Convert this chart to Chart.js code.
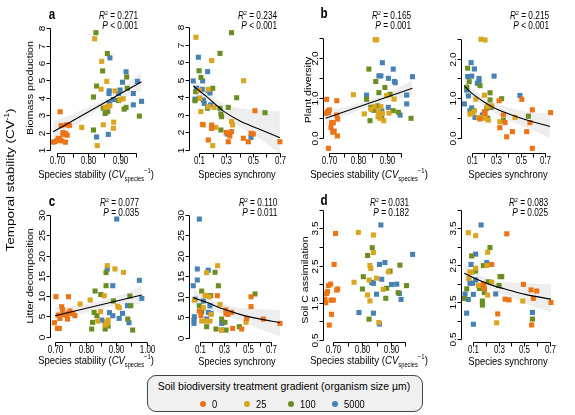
<!DOCTYPE html>
<html>
<head>
<meta charset="utf-8">
<title>Temporal stability</title>
<script src="https://cdn.jsdelivr.net/npm/chart.js@4.4.1/dist/chart.umd.min.js"></script>
<style>
  html, body { margin: 0; padding: 0; background: #fff; }
  #fig { position: relative; width: 575px; height: 415px; overflow: hidden;
         font-family: "Liberation Sans", Arial, Helvetica, sans-serif; color: #000; }
  #fig canvas { position: absolute; left: 0; top: 0; }
  .txt { position: absolute; white-space: nowrap; line-height: 1; }
  .txt sup, .txt sub { line-height: 0; }
  .txt sup { font-size: 0.62em; }
  .txt sub { font-size: 0.6em; }
  #legend { position: absolute; left: 147px; top: 375px; width: 274px; height: 35px;
            border: 1px solid #444; border-radius: 9px; background: #f0f0f0; }
  .dot { position: absolute; width: 6px; height: 6px; border-radius: 50%; }
</style>
</head>
<body>
<div id="fig">
  <canvas id="pa" width="575" height="415"></canvas>
  <canvas id="pa2" width="575" height="415"></canvas>
  <canvas id="pb" width="575" height="415"></canvas>
  <canvas id="pb2" width="575" height="415"></canvas>
  <canvas id="pc" width="575" height="415"></canvas>
  <canvas id="pc2" width="575" height="415"></canvas>
  <canvas id="pd" width="575" height="415"></canvas>
  <canvas id="pd2" width="575" height="415"></canvas>
  <div id="legend"></div>
</div>
<script>
// treatment groups (organism size, µm)
const groups = ['0', '25', '100', '5000'];
const groupColors = ['#EC7416', '#DAA520', '#6B8E23', '#4682B4'];

// tick values and labels
const stabTicks = [0.70, 0.75, 0.80, 0.85, 0.90, 0.95];
const stabLabels = ['0.70', '', '0.80', '', '0.90', ''];
const stabTicksWide = [0.70, 0.75, 0.80, 0.85, 0.90, 0.95, 1.00];
const stabLabelsWide = ['0.70', '', '0.80', '', '0.90', '', '1.00'];
const syncTicks = [0.1, 0.2, 0.3, 0.4, 0.5, 0.6, 0.7];
const syncLabels = ['0.1', '', '0.3', '', '0.5', '', '0.7'];
const biomassTicks = [1, 2, 3, 4, 5, 6, 7, 8];
const biomassLabels = ['1', '2', '3', '4', '5', '6', '7', '8'];
const plantTicks = [0, 0.5, 1, 1.5, 2, 2.5];
const plantLabels = ['0.0', '', '1.0', '', '2.0', ''];
const litterTicks = [0, 5, 10, 15, 20, 25, 30];
const litterLabels = ['0', '5', '10', '15', '20', '25', '30'];
const soilTicks = [0.5, 1, 1.5, 2, 2.5, 3, 3.5, 4];
const soilLabels = ['0.5', '', '1.5', '', '2.5', '', '3.5', ''];

// R2 and P per panel (a, a2, b, b2, c, c2, d, d2)
const r2Values = ['0.271', '0.234', '0.165', '0.215', '0.077', '0.110', '0.031', '0.083'];
const pValues = ['< 0.001', '< 0.001', '= 0.001', '< 0.001', '= 0.035', '= 0.011', '= 0.182', '= 0.025'];

// a: biomass production vs species stability, one list per group
const biomassStab = [
  [[0.711,3.2],[0.714,2.4],[0.73,2.45],[0.74,2.42],[0.72,2.0],[0.727,1.95],[0.733,1.85],[0.705,1.67],[0.695,1.48],[0.701,1.55],[0.71,1.6],[0.716,1.52],[0.688,1.45],[0.728,1.45],[0.72,1.9]],
  [[0.82,7.4],[0.842,6.1],[0.858,4.95],[0.84,4.5],[0.884,4.4],[0.868,3.55],[0.853,3.45],[0.90,3.9],[0.91,3.95],[0.779,2.3],[0.847,2.45],[0.88,2.6],[0.879,2.25],[0.828,1.25],[0.862,3.5]],
  [[0.824,7.75],[0.86,6.55],[0.845,5.55],[0.826,4.68],[0.816,4.05],[0.923,4.55],[0.921,5.2],[0.847,3.4],[0.853,3.1],[0.861,3.2],[0.895,3.85],[0.919,3.45],[0.913,3.35],[0.961,2.95],[0.816,2.15]],
  [[0.868,6.3],[0.919,5.5],[0.955,4.95],[0.908,4.9],[0.866,4.4],[0.865,4.25],[0.90,4.45],[0.895,4.25],[0.879,3.9],[0.942,4.25],[0.968,3.8],[0.942,3.6],[0.866,3.7],[0.826,1.75],[0.863,1.9]]
];
const biomassStabFit = [[0.689,2.05],[0.968,4.93]];
const biomassStabHi = [[0.689,2.65],[0.75,3.06],[0.84,3.83],[0.91,4.66],[0.968,5.48]];
const biomassStabLo = [[0.689,1.45],[0.75,2.30],[0.84,3.39],[0.91,4.00],[0.968,4.38]];

// a: biomass production vs species synchrony
const biomassSync = [
  [[0.514,3.24],[0.125,2.46],[0.192,2.42],[0.192,2.23],[0.167,1.57],[0.316,1.47],[0.34,2.05],[0.328,1.8],[0.30,2.0],[0.428,1.67],[0.465,1.47],[0.485,1.95],[0.502,1.91],[0.70,1.47],[0.323,1.9]],
  [[0.075,7.43],[0.192,6.1],[0.43,4.95],[0.10,4.4],[0.167,4.46],[0.167,3.47],[0.112,3.19],[0.21,3.43],[0.34,2.62],[0.348,2.43],[0.197,2.29],[0.224,2.29],[0.20,1.25],[0.13,2.43],[0.105,3.95]],
  [[0.34,7.69],[0.254,6.51],[0.098,5.52],[0.112,5.14],[0.20,4.52],[0.073,4.33],[0.068,3.81],[0.378,3.98],[0.316,3.43],[0.254,3.38],[0.261,3.05],[0.266,2.9],[0.589,3.13],[0.162,3.38],[0.261,2.14]],
  [[0.093,6.29],[0.162,5.47],[0.125,4.94],[0.055,4.94],[0.08,4.52],[0.122,4.46],[0.167,4.38],[0.18,4.25],[0.10,3.95],[0.13,3.85],[0.068,3.9],[0.137,3.66],[0.184,3.57],[0.308,1.91],[0.485,1.72]]
];
const biomassSyncFit = [[0.055,4.65],[0.155,4.04],[0.28,3.22],[0.40,2.67],[0.53,2.24],[0.70,1.70]];
const biomassSyncHi = [[0.055,5.12],[0.155,4.33],[0.28,3.66],[0.40,3.38],[0.53,3.28],[0.70,3.19]];
const biomassSyncLo = [[0.055,4.14],[0.155,3.85],[0.28,2.90],[0.40,2.33],[0.53,1.76],[0.70,0.81]];

// b: plant diversity vs species stability
const plantStab = [
  [[0.691,0.975],[0.726,0.94],[0.697,0.64],[0.70,0.71],[0.687,0.625],[0.726,0.58],[0.729,0.48],[0.708,0.39],[0.714,0.39],[0.706,0.27],[0.717,0.18],[0.712,0.15],[0.728,0.06],[0.697,-0.25],[0.694,0.67]],
  [[0.86,2.47],[0.865,2.46],[0.784,1.09],[0.90,1.07],[0.926,0.98],[0.822,0.61],[0.88,0.79],[0.871,0.67],[0.87,0.54],[0.877,0.5],[0.89,0.44],[0.908,0.63],[0.857,0.79],[0.845,0.73],[0.885,0.62]],
  [[0.838,1.73],[0.862,1.42],[0.873,1.14],[0.894,1.27],[0.83,0.975],[0.869,0.81],[0.845,0.775],[0.85,0.73],[0.941,0.65],[0.923,0.69],[0.985,0.5],[0.842,0.44],[0.883,0.54],[0.912,1.1],[0.855,0.7]],
  [[0.885,1.89],[0.88,1.56],[0.873,1.56],[0.923,1.73],[0.906,1.5],[0.927,1.42],[0.99,1.54],[0.93,1.39],[0.83,1.08],[0.97,1.08],[0.97,0.86],[0.947,0.58],[0.906,0.775],[0.883,0.69],[0.88,0.56]]
];
const plantStabFit = [[0.687,0.5],[0.99,1.25]];
const plantStabHi = [[0.687,0.70],[0.75,0.776],[0.85,0.983],[0.92,1.197],[0.99,1.46]];
const plantStabLo = [[0.687,0.30],[0.75,0.536],[0.85,0.823],[0.92,0.957],[0.99,1.04]];

// b: plant diversity vs species synchrony
const plantSync = [
  [[0.51,0.975],[0.596,0.71],[0.746,0.64],[0.324,0.94],[0.204,0.66],[0.168,0.48],[0.359,0.58],[0.373,0.39],[0.33,0.26],[0.433,0.16],[0.386,0.03],[0.55,0.16],[0.577,0.39],[0.596,-0.26],[0.21,0.62]],
  [[0.176,2.49],[0.209,2.47],[0.204,1.08],[0.133,0.98],[0.10,0.62],[0.086,0.6],[0.122,0.68],[0.155,0.51],[0.182,0.52],[0.209,0.5],[0.236,0.45],[0.264,0.81],[0.455,0.52],[0.33,0.41],[0.228,0.79]],
  [[0.067,1.76],[0.08,1.42],[0.059,1.28],[0.168,1.32],[0.25,1.14],[0.345,0.99],[0.25,0.96],[0.223,0.75],[0.258,0.77],[0.114,0.69],[0.23,0.5],[0.359,0.44],[0.564,0.55],[0.105,0.65],[0.24,0.8]],
  [[0.095,1.9],[0.122,1.74],[0.067,1.55],[0.10,1.56],[0.16,1.5],[0.146,1.38],[0.16,1.42],[0.283,1.56],[0.059,1.21],[0.073,1.06],[0.04,0.86],[0.10,0.76],[0.086,0.69],[0.127,0.52],[0.187,0.58],[0.495,1.07]]
];
const plantSyncFit = [[0.04,1.31],[0.1,1.13],[0.195,0.92],[0.29,0.75],[0.427,0.58],[0.564,0.44],[0.74,0.29]];
const plantSyncHi = [[0.04,1.5],[0.1,1.28],[0.195,1.04],[0.29,0.89],[0.427,0.75],[0.564,0.66],[0.74,0.62]];
const plantSyncLo = [[0.04,1.13],[0.1,1.0],[0.195,0.81],[0.29,0.62],[0.427,0.41],[0.564,0.24],[0.74,0.0]];

// c: litter decomposition vs species stability
const litterStab = [
  [[0.703,9.86],[0.744,9.86],[0.722,7.4],[0.725,6.57],[0.749,6.33],[0.744,5.75],[0.758,5.75],[0.727,5.5],[0.765,5.18],[0.736,5.34],[0.711,5.34],[0.716,4.52],[0.741,4.35],[0.698,3.45],[0.708,2.05],[0.714,2.05]],
  [[0.871,17.5],[0.896,16.7],[0.924,15.86],[0.861,10.1],[0.782,8.05],[0.815,9.04],[0.91,7.15],[0.849,6.16],[0.869,3.7],[0.872,3.29],[0.864,2.88],[0.84,3.86],[0.874,4.1],[0.905,7.5]],
  [[0.867,15.8],[0.867,12.57],[0.85,10.4],[0.831,11.25],[0.891,8.8],[0.945,10.0],[0.948,7.64],[0.828,6.0],[0.837,5.18],[0.938,4.35],[0.823,3.53],[0.82,1.89],[0.874,2.63],[0.864,1.89],[0.954,1.64]],
  [[0.902,29.0],[0.871,16.7],[0.889,12.57],[0.976,13.9],[0.984,9.45],[0.937,7.64],[0.921,5.75],[0.878,5.92],[0.889,5.18],[0.91,4.52],[0.853,4.1],[0.864,3.53],[0.942,3.45]]
];
const litterStabFit = [[0.70,5.18],[0.984,10.27]];
const litterStabHi = [[0.70,7.2],[0.76,7.56],[0.85,8.77],[0.92,10.42],[0.984,12.57]];
const litterStabLo = [[0.70,3.2],[0.76,4.96],[0.85,6.97],[0.92,7.82],[0.984,7.97]];

// c: litter decomposition vs species synchrony
const litterSync = [
  [[0.242,10.27],[0.527,10.0],[0.527,7.6],[0.09,6.5],[0.104,5.4],[0.315,6.77],[0.363,6.2],[0.315,5.95],[0.33,5.7],[0.49,4.7],[0.631,4.56],[0.372,2.28],[0.448,2.12],[0.772,3.5]],
  [[0.245,17.6],[0.152,15.9],[0.146,10.3],[0.048,9.2],[0.265,8.15],[0.124,7.33],[0.189,5.7],[0.11,4.07],[0.152,4.07],[0.18,4.07],[0.279,1.87],[0.485,3.75],[0.175,10.0],[0.138,10.4]],
  [[0.223,16.0],[0.251,12.7],[0.11,11.4],[0.186,10.3],[0.561,10.7],[0.09,7.8],[0.11,6.35],[0.279,4.56],[0.307,3.75],[0.152,2.69],[0.231,2.12],[0.279,1.87],[0.316,1.87],[0.428,2.69]],
  [[0.09,29.0],[0.073,16.8],[0.166,16.5],[0.073,14.1],[0.039,12.7],[0.054,9.4],[0.18,7.8],[0.166,6.2],[0.189,5.95],[0.152,4.56],[0.048,5.13],[0.045,4.3],[0.045,3.5],[0.279,3.5],[0.124,8.96]]
];
const litterSyncFit = [[0.039,9.8],[0.152,8.64],[0.293,7.0],[0.434,5.7],[0.575,4.73],[0.772,3.67]];
const litterSyncHi = [[0.039,11.9],[0.152,9.78],[0.293,8.15],[0.434,7.33],[0.575,7.0],[0.772,6.76]];
const litterSyncLo = [[0.039,8.15],[0.152,7.33],[0.293,5.7],[0.434,4.07],[0.575,2.44],[0.772,0.24]];

// d: soil C assimilation vs species stability (no fitted line)
const soilStab = [
  [[0.708,3.36],[0.703,2.53],[0.683,1.96],[0.691,2.0],[0.712,1.84],[0.715,1.87],[0.68,1.8],[0.677,1.75],[0.671,1.6],[0.692,1.57],[0.70,1.57],[0.674,1.5],[0.694,1.19],[0.686,0.9]],
  [[0.787,3.39],[0.839,3.32],[0.839,2.85],[0.827,2.5],[0.83,2.42],[0.85,2.16],[0.891,2.33],[0.873,1.86],[0.772,2.05],[0.819,1.71],[0.827,1.55],[0.858,0.97],[0.824,2.11]],
  [[0.835,2.98],[0.819,2.77],[0.897,2.35],[0.931,2.51],[0.804,2.2],[0.801,1.87],[0.954,1.96],[0.885,1.89],[0.925,1.77],[0.882,1.62],[0.824,1.06]],
  [[0.865,3.59],[0.975,2.8],[0.879,2.58],[0.86,2.53],[0.868,2.13],[0.833,2.05],[0.839,2.02],[0.902,1.99],[0.92,2.0],[0.85,1.73],[0.929,1.75],[0.935,1.59],[0.839,1.22],[0.789,1.24],[0.86,0.93]]
];

// d: soil C assimilation vs species synchrony
const soilSync = [
  [[0.364,3.35],[0.247,2.52],[0.493,1.98],[0.552,1.83],[0.596,1.8],[0.19,1.87],[0.351,1.58],[0.382,1.56],[0.57,1.6],[0.707,1.49],[0.294,1.18],[0.557,0.88],[0.183,1.99]],
  [[0.066,3.38],[0.123,3.3],[0.216,2.85],[0.209,2.49],[0.123,2.42],[0.079,2.31],[0.092,2.31],[0.071,2.14],[0.144,1.95],[0.19,1.86],[0.247,2.04],[0.488,1.53],[0.216,1.69],[0.286,0.94]],
  [[0.234,2.98],[0.092,2.75],[0.183,2.49],[0.312,2.19],[0.325,2.19],[0.123,2.34],[0.054,1.86],[0.221,2.05],[0.304,1.95],[0.152,1.87],[0.19,1.76],[0.035,1.6],[0.175,1.53],[0.175,1.42],[0.563,1.04]],
  [[0.165,3.59],[0.123,2.8],[0.209,2.57],[0.087,2.52],[0.123,2.1],[0.079,2.01],[0.10,2.01],[0.183,1.98],[0.041,1.72],[0.105,1.71],[0.066,1.57],[0.278,1.72],[0.053,1.2],[0.105,0.9],[0.563,1.22]]
];
const soilSyncFit = [[0.035,2.28],[0.118,2.14],[0.247,1.96],[0.376,1.83],[0.506,1.71],[0.707,1.58]];
const soilSyncHi = [[0.035,2.55],[0.118,2.31],[0.247,2.1],[0.376,2.04],[0.506,2.01],[0.707,1.98]];
const soilSyncLo = [[0.035,2.04],[0.118,1.98],[0.247,1.83],[0.376,1.65],[0.506,1.47],[0.707,1.22]];

const FONT = '"Liberation Sans", Arial, Helvetica, sans-serif';
const fig = document.getElementById('fig');

// R style axes: line from first to last tick, ticks outside, y labels rotated
const rAxes = {
  id: 'rAxes',
  afterDraw(chart, args, o) {
    const ctx = chart.ctx;
    const xs = chart.scales.x, ys = chart.scales.y;
    const xb = Math.round(chart.chartArea.bottom) + 0.5;
    const yl = Math.round(chart.chartArea.left) + 0.5;
    const xp = o.xTicks.map(v => Math.round(xs.getPixelForValue(v)) + 0.5);
    const yp = o.yTicks.map(v => Math.round(ys.getPixelForValue(v)) + 0.5);
    ctx.save();
    ctx.strokeStyle = '#000';
    ctx.fillStyle = '#000';
    ctx.lineWidth = 1;
    ctx.beginPath();
    ctx.moveTo(xp[0], xb);
    ctx.lineTo(xp[xp.length - 1], xb);
    xp.forEach(p => { ctx.moveTo(p, xb); ctx.lineTo(p, xb + 4); });
    ctx.moveTo(yl, yp[0]);
    ctx.lineTo(yl, yp[yp.length - 1]);
    yp.forEach(p => { ctx.moveTo(yl, p); ctx.lineTo(yl - 4, p); });
    ctx.stroke();
    ctx.font = '10px ' + FONT;
    ctx.textAlign = 'center';
    ctx.textBaseline = 'middle';
    o.xLabels.forEach((t, i) => {
      if (!t) return;
      ctx.save();
      ctx.translate(xp[i], xb + 7.5);
      ctx.scale(0.8, 1);
      ctx.fillText(t, 0, 0);
      ctx.restore();
    });
    o.yLabels.forEach((t, i) => {
      if (!t) return;
      ctx.save();
      ctx.translate(yl - 8, yp[i]);
      ctx.scale(0.82, 1);
      ctx.rotate(-Math.PI / 2);
      ctx.fillText(t, 0, 0);
      ctx.restore();
    });
    ctx.restore();
  }
};

const toXY = arr => arr.map(([x, y]) => ({ x, y }));

function buildPanel(p) {
  const datasets = [];
  if (p.hi) {
    datasets.push({ type: 'line', data: toXY(p.hi), borderColor: 'rgba(0,0,0,0)', backgroundColor: '#eeeeee',
      pointRadius: 0, fill: '+1', cubicInterpolationMode: 'monotone', order: 3 });
    datasets.push({ type: 'line', data: toXY(p.lo), borderColor: 'rgba(0,0,0,0)', backgroundColor: '#eeeeee',
      pointRadius: 0, fill: false, cubicInterpolationMode: 'monotone', order: 3 });
  }
  p.pts.forEach((g, i) => {
    datasets.push({ type: 'scatter', label: groups[i], data: toXY(g), backgroundColor: groupColors[i],
      pointStyle: 'rect', pointRadius: 3.6, borderWidth: 0, order: 2 });
  });
  if (p.fit) {
    datasets.push({ type: 'line', data: toXY(p.fit), borderColor: '#000', borderWidth: 1.1,
      pointRadius: 0, fill: false, cubicInterpolationMode: 'monotone', order: 1 });
  }
  const [L, T, R, B] = p.area;
  new Chart(document.getElementById(p.id), {
    type: 'scatter',
    data: { datasets },
    options: {
      responsive: false,
      animation: false,
      events: [],
      layout: { padding: { left: L, top: T, right: 575 - R, bottom: 415 - B } },
      scales: {
        x: { type: 'linear', display: false, min: p.xMin, max: p.xMax },
        y: { type: 'linear', display: false, min: p.yMin, max: p.yMax }
      },
      plugins: {
        legend: { display: false },
        tooltip: { enabled: false },
        rAxes: { xTicks: p.xTicks, xLabels: p.xLabels, yTicks: p.yTicks, yLabels: p.yLabels }
      }
    },
    plugins: [rAxes]
  });
}

const panels = [
  { id: 'pa', pts: biomassStab, fit: biomassStabFit, hi: biomassStabHi, lo: biomassStabLo,
    area: [50, 22, 146, 153], xMin: 0.6788, xMax: 0.982, yMin: 0.827, yMax: 8.365,
    xTicks: stabTicks, xLabels: stabLabels, yTicks: biomassTicks, yLabels: biomassLabels },
  { id: 'pa2', pts: biomassSync, fit: biomassSyncFit, hi: biomassSyncHi, lo: biomassSyncLo,
    area: [189, 22, 284, 153], xMin: 0.0233, xMax: 0.7307, yMin: 0.829, yMax: 8.30,
    xTicks: syncTicks, xLabels: syncLabels, yTicks: biomassTicks, yLabels: biomassLabels },
  { id: 'pb', pts: plantStab, fit: plantStabFit, hi: plantStabHi, lo: plantStabLo,
    area: [323, 22, 416, 153], xMin: 0.678, xMax: 1.0024, yMin: -0.3675, yMax: 2.9075,
    xTicks: stabTicks, xLabels: stabLabels, yTicks: plantTicks, yLabels: plantLabels },
  { id: 'pb2', pts: plantSync, fit: plantSyncFit, hi: plantSyncHi, lo: plantSyncLo,
    area: [461, 22, 555, 153], xMin: 0.0124, xMax: 0.7817, yMin: -0.378, yMax: 2.924,
    xTicks: syncTicks, xLabels: syncLabels, yTicks: plantTicks, yLabels: plantLabels },
  { id: 'pc', pts: litterStab, fit: litterStabFit, hi: litterStabHi, lo: litterStabLo,
    area: [50, 205, 150, 342], xMin: 0.6836, xMax: 1.0108, yMin: -1.306, yMax: 32.46,
    xTicks: stabTicksWide, xLabels: stabLabelsWide, yTicks: litterTicks, yLabels: litterLabels },
  { id: 'pc2', pts: litterSync, fit: litterSyncFit, hi: litterSyncHi, lo: litterSyncLo,
    area: [189, 205, 285, 342], xMin: 0.0028, xMax: 0.8143, yMin: -1.05, yMax: 32.44,
    xTicks: syncTicks, xLabels: syncLabels, yTicks: litterTicks, yLabels: litterLabels },
  { id: 'pd', pts: soilStab,
    area: [323, 205, 416, 342], xMin: 0.6643, xMax: 0.9868, yMin: 0.446, yMax: 4.126,
    xTicks: stabTicks, xLabels: stabLabels, yTicks: soilTicks, yLabels: soilLabels },
  { id: 'pd2', pts: soilSync, fit: soilSyncFit, hi: soilSyncHi, lo: soilSyncLo,
    area: [461, 205, 556, 342], xMin: 0.0093, xMax: 0.7457, yMin: 0.419, yMax: 4.131,
    xTicks: syncTicks, xLabels: syncLabels, yTicks: soilTicks, yLabels: soilLabels }
];

panels.forEach(buildPanel);

// text helper: (x, y) is the centre, or the right end when align is 'right'
function addText(html, x, y, o = {}) {
  const el = document.createElement('div');
  el.className = 'txt';
  el.innerHTML = html;
  el.style.fontSize = (o.size || 10) + 'px';
  if (o.bold) el.style.fontWeight = 'bold';
  (o.parent || fig).appendChild(el);
  let sx = o.sx || 0.83;
  if (o.w) sx = o.w / el.offsetWidth;
  el.style.top = y + 'px';
  if (o.align === 'right') {
    el.style.right = ((o.pw || 575) - x) + 'px';
    el.style.transformOrigin = '100% 50%';
    el.style.transform = `translateY(-50%) scaleX(${sx})`;
  } else {
    el.style.left = x + 'px';
    el.style.transform = `translate(-50%,-50%) scaleX(${sx})` + (o.rot ? ' rotate(-90deg)' : '');
  }
  return el;
}

// panel letters
addText('a', 52, 14, { size: 14, bold: true });
addText('b', 324, 13, { size: 14, bold: true });
addText('c', 52, 201, { size: 14, bold: true });
addText('d', 324, 200, { size: 14, bold: true });

// statistics
const statEnds = [138.5, 277, 411, 549.5, 139.5, 277, 409.5, 548.5];
r2Values.forEach((r, i) => {
  const top = i < 4 ? 16 : 202.5;
  addText(`<i>R</i><sup>2</sup> = ${r}`, statEnds[i], top, { align: 'right' });
  addText(`<i>P</i> ${pValues[i]}`, statEnds[i], top + 10, { align: 'right' });
});

// y titles
addText('Biomass production', 30, 88, { size: 10.7, rot: true, sx: 0.85 });
addText('Plant diversity', 307.5, 90, { size: 10.7, rot: true, sx: 0.85 });
addText('Litter decomposition', 30, 276, { size: 10.7, rot: true, sx: 0.85 });
addText('Soil C assimilation', 305, 280, { size: 10.7, rot: true, sx: 0.85 });
addText('Temporal stability (CV<sup>-1</sup>)', 10, 180, { size: 13.5, rot: true, sx: 0.85 });

// x titles
const stabTitle = 'Species stability (<i>CV</i><sub>species</sub><sup>\u22121</sup>)';
addText(stabTitle, 95.5, 173.5, { size: 11, w: 116 });
addText('Species synchrony', 236.5, 174, { size: 11, w: 77 });
addText(stabTitle, 369, 173.5, { size: 11, w: 118 });
addText('Species synchrony', 507.5, 174, { size: 11, w: 79 });
addText(stabTitle, 96, 360, { size: 11, w: 116 });
addText('Species synchrony', 236.5, 360.5, { size: 11, w: 77 });
addText(stabTitle, 369, 360, { size: 11, w: 118 });
addText('Species synchrony', 507.5, 360.5, { size: 11, w: 79 });

// legend
const legend = document.getElementById('legend');
addText('Soil biodiversity treatment gradient (organism size \u00b5m)', 136, 10, { size: 11, w: 253, parent: legend });
groups.forEach((g, i) => {
  const cx = 55 + i * 44;
  const dot = document.createElement('div');
  dot.className = 'dot';
  dot.style.left = (cx - 3) + 'px';
  dot.style.top = (28 - 3) + 'px';
  dot.style.background = groupColors[i];
  legend.appendChild(dot);
  const t = addText(g, cx + 9, 28, { size: 11, parent: legend, sx: 0.85 });
  t.style.transformOrigin = '0 50%';
  t.style.transform = 'translateY(-50%) scaleX(0.85)';
});
</script>
</body>
</html>
